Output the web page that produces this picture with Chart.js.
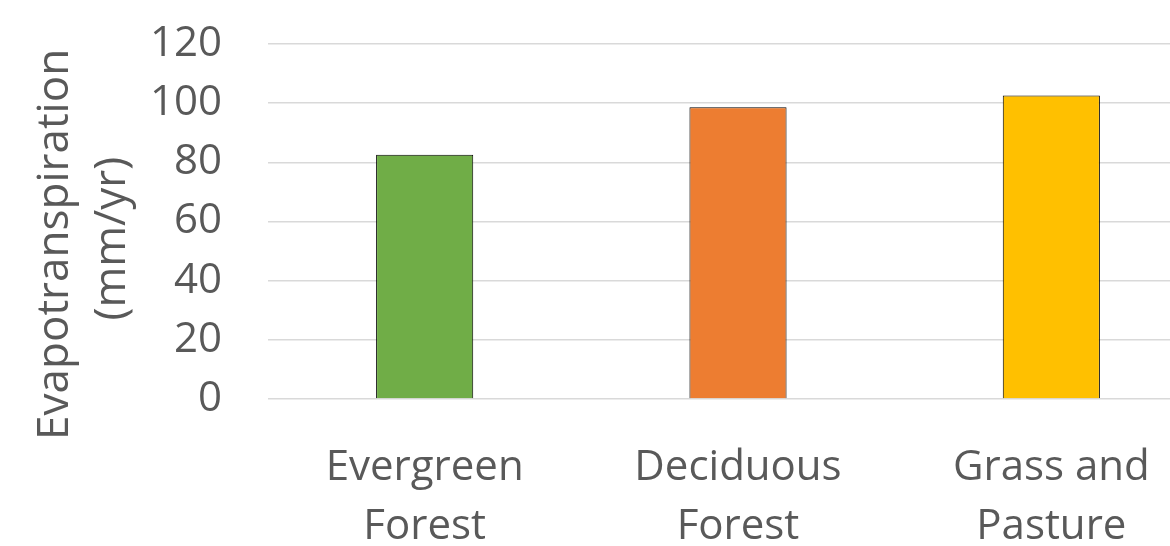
<!DOCTYPE html>
<html>
<head>
<meta charset="utf-8">
<script src="https://cdn.jsdelivr.net/npm/chart.js@4.4.0/dist/chart.umd.min.js"></script>
<style>
  html, body { margin: 0; padding: 0; background: #fff; overflow: hidden; }
  #wrap { width: 1170px; height: 546px; overflow: hidden; position: relative; }
  #chart { position: absolute; left: 0; top: 0; }
</style>
</head>
<body>
<div id="wrap"><canvas id="chart" width="1210" height="546"></canvas></div>
<script>
const categories = [["Evergreen", "Forest"], ["Deciduous", "Forest"], ["Grass and", "Pasture"]];
const etValues = [82.6, 98.6, 102.6];
const barColors = ["#70AD47", "#ED7D31", "#FFC000"];
const yTicks = [0, 20, 40, 60, 80, 100, 120];

const textColor = "#595959";
const fontFamily = "'Open Sans', sans-serif";

new Chart(document.getElementById("chart"), {
  type: "bar",
  data: {
    labels: categories,
    datasets: [
      {
        data: etValues,
        backgroundColor: barColors,
        borderColor: "#000000",
        borderWidth: 1,
        barPercentage: 0.31,
        categoryPercentage: 1,
      },
    ],
  },
  options: {
    responsive: false,
    devicePixelRatio: 1,
    animation: false,
    layout: { padding: { top: 44, right: 2, left: 27, bottom: 0 } },
    plugins: {
      legend: { display: false },
      tooltip: { enabled: false },
    },
    scales: {
      x: {
        grid: { display: false },
        border: { display: false },
        afterFit: (axis) => {
          axis.height = 147;
          axis.paddingLeft = 0;
          axis.paddingRight = 0;
        },
        ticks: {
          color: textColor,
          font: { family: fontFamily, size: 42, lineHeight: 1.4 },
          padding: 32,
          maxRotation: 0,
        },
      },
      y: {
        min: 0,
        max: 120,
        afterBuildTicks: (axis) => {
          axis.ticks = yTicks.map((v) => ({ value: v }));
        },
        afterFit: (axis) => {
          axis.width = 241;
          axis.paddingTop = 0;
          axis.paddingBottom = 0;
        },
        grid: { color: "#d9d9d9", lineWidth: 1.5, drawTicks: false },
        border: { display: false },
        ticks: {
          color: textColor,
          font: { family: fontFamily, size: 42 },
          padding: 46,
          autoSkip: false,
        },
        title: {
          display: true,
          text: ["Evapotranspiration    ", "(mm/yr)   "],
          color: textColor,
          font: { family: fontFamily, size: 44, lineHeight: 1.3 },
          padding: { top: 0, bottom: 0 },
        },
      },
    },
  },
});
</script>
</body>
</html>
